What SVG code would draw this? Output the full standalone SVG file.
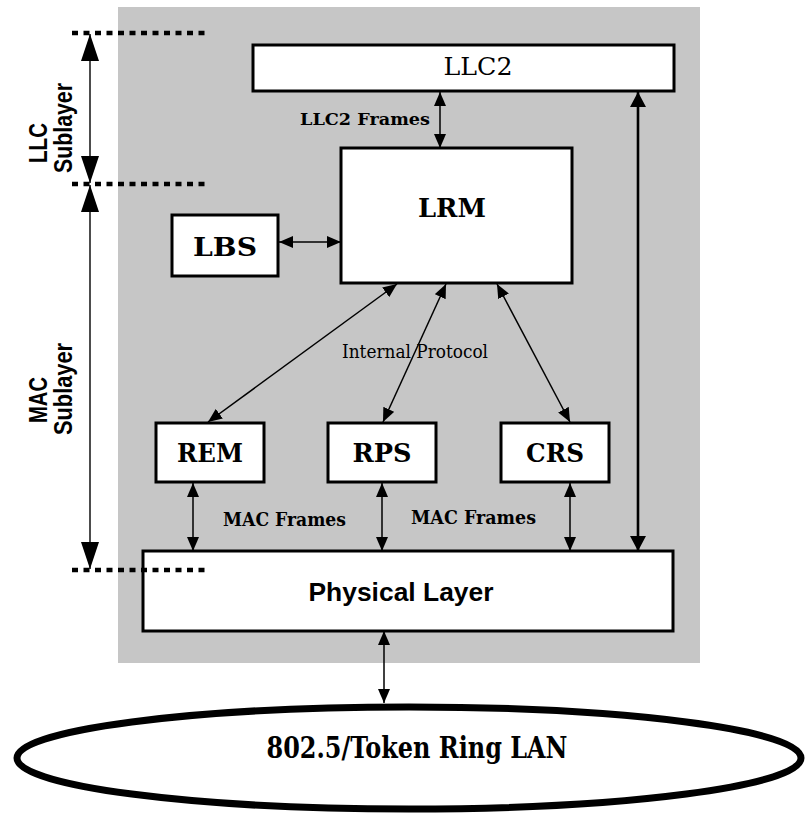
<svg xmlns="http://www.w3.org/2000/svg" width="806" height="813" viewBox="0 0 806 813">
<style>
.box{fill:#fff;stroke:#000;stroke-width:3}
.serifB{font-family:"DejaVu Serif","Liberation Serif",serif;font-weight:bold;fill:#000}
.serif{font-family:"DejaVu Serif","Liberation Serif",serif;fill:#000}
.sans{font-family:"Liberation Sans",Arial,sans-serif;font-weight:bold;fill:#000}
.thin{stroke:#000;stroke-width:1.5;fill:none;marker-start:url(#ah);marker-end:url(#ah)}
.dots{stroke:#000;stroke-width:4.5;stroke-dasharray:6 5.5;fill:none}
.dim{stroke:#000;stroke-width:1.4;fill:none;marker-start:url(#big);marker-end:url(#big)}
</style>
<defs>
<marker id="ah" markerUnits="userSpaceOnUse" markerWidth="14" markerHeight="12" refX="14" refY="6" orient="auto-start-reverse" viewBox="0 0 14 12">
<path d="M0,0 L14,6 L0,12 z" fill="#000"/>
</marker>
<marker id="ahw" markerUnits="userSpaceOnUse" markerWidth="15" markerHeight="16" refX="15" refY="8" orient="auto-start-reverse" viewBox="0 0 15 16">
<path d="M0,0 L15,8 L0,16 z" fill="#000"/>
</marker>
<marker id="big" markerUnits="userSpaceOnUse" markerWidth="27" markerHeight="18" refX="27" refY="9" orient="auto-start-reverse" viewBox="0 0 27 18">
<path d="M0,0 L27,9 L0,18 z" fill="#000"/>
</marker>
</defs>
<rect id="background" x="118" y="7" width="582" height="656" fill="#c6c6c6"/>
<g id="sublayers">
<line class="dots" x1="72" y1="33" x2="210" y2="33"/>
<line class="dots" x1="72" y1="184" x2="210" y2="184"/>
<text class="sans" font-size="26" text-anchor="middle" textLength="40" lengthAdjust="spacingAndGlyphs" transform="translate(47,143) rotate(-90)">LLC</text>
<text class="sans" font-size="26" text-anchor="middle" textLength="90" lengthAdjust="spacingAndGlyphs" transform="translate(72,128) rotate(-90)">Sublayer</text>
<text class="sans" font-size="26" text-anchor="middle" textLength="46" lengthAdjust="spacingAndGlyphs" transform="translate(47,400) rotate(-90)">MAC</text>
<text class="sans" font-size="26" text-anchor="middle" textLength="92" lengthAdjust="spacingAndGlyphs" transform="translate(72,389) rotate(-90)">Sublayer</text>
</g>
<g id="connectors">
<line class="dim" x1="90" y1="34" x2="90" y2="183"/>
<line class="dim" x1="90" y1="185" x2="90" y2="569"/>
<line class="thin" x1="440" y1="92" x2="440" y2="148"/>
<line class="thin" x1="279" y1="242" x2="341" y2="242"/>
<line class="thin" x1="397" y1="284" x2="208" y2="422"/>
<line class="thin" x1="446" y1="284" x2="383" y2="422"/>
<line class="thin" x1="497" y1="284" x2="570" y2="422"/>
<line class="thin" x1="193" y1="483" x2="193" y2="551"/>
<line class="thin" x1="382" y1="483" x2="382" y2="551"/>
<line class="thin" x1="570" y1="483" x2="570" y2="551"/>
<line x1="638" y1="92" x2="638" y2="551" stroke="#000" stroke-width="2.6" marker-start="url(#ahw)" marker-end="url(#ahw)"/>
<line class="thin" x1="384" y1="631" x2="384" y2="703"/>
<text class="serifB" x="300" y="125" font-size="17" textLength="130" lengthAdjust="spacingAndGlyphs">LLC2 Frames</text>
<text class="serif" x="342" y="358" font-size="19" textLength="146" lengthAdjust="spacingAndGlyphs">Internal Protocol</text>
<text class="serifB" x="223" y="526" font-size="18" textLength="123" lengthAdjust="spacingAndGlyphs">MAC Frames</text>
<text class="serifB" x="411" y="524" font-size="18" textLength="125" lengthAdjust="spacingAndGlyphs">MAC Frames</text>
</g>
<g id="LLC2">
<rect class="box" x="253" y="45" width="421" height="46"/>
<text class="serif" x="478" y="75" font-size="25" text-anchor="middle" textLength="69" lengthAdjust="spacingAndGlyphs">LLC2</text>
</g>
<g id="LRM">
<rect class="box" x="341" y="148" width="231" height="135" stroke-width="2"/>
<text class="serifB" x="452" y="217" font-size="26" text-anchor="middle" textLength="68" lengthAdjust="spacingAndGlyphs">LRM</text>
</g>
<g id="LBS">
<rect class="box" x="172" y="215" width="106" height="61"/>
<text class="serifB" x="225" y="256" font-size="26" text-anchor="middle" textLength="64" lengthAdjust="spacingAndGlyphs">LBS</text>
</g>
<g id="REM">
<rect class="box" x="156" y="423" width="108" height="59"/>
<text class="serifB" x="210" y="462" font-size="26" text-anchor="middle" textLength="66" lengthAdjust="spacingAndGlyphs">REM</text>
</g>
<g id="RPS">
<rect class="box" x="328" y="423" width="108" height="59"/>
<text class="serifB" x="382" y="462" font-size="26" text-anchor="middle" textLength="59" lengthAdjust="spacingAndGlyphs">RPS</text>
</g>
<g id="CRS">
<rect class="box" x="501" y="423" width="108" height="59"/>
<text class="serifB" x="555" y="462" font-size="26" text-anchor="middle" textLength="58" lengthAdjust="spacingAndGlyphs">CRS</text>
</g>
<g id="PhysicalLayer">
<rect class="box" x="143" y="551" width="530" height="80"/>
<text class="sans" x="401" y="601" font-size="26" text-anchor="middle" textLength="185" lengthAdjust="spacingAndGlyphs">Physical Layer</text>
</g>
<g id="MACboundary">
<line class="dots" x1="72" y1="570" x2="210" y2="570"/>
</g>
<g id="TokenRingLAN">
<ellipse cx="409" cy="758" rx="392" ry="51" fill="#fff" stroke="#000" stroke-width="7"/>
<text class="serifB" x="417" y="758" font-size="29" text-anchor="middle" textLength="301" lengthAdjust="spacingAndGlyphs">802.5/Token Ring LAN</text>
</g>
</svg>
